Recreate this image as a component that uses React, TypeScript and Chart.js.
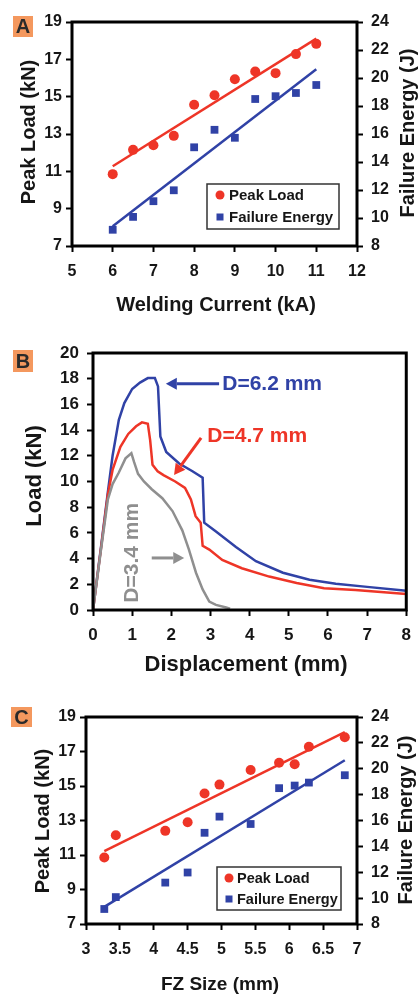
import React, { useEffect, useRef } from 'react';
import { Chart, registerables } from 'chart.js';

Chart.register(...registerables);

const FONT = '"Liberation Sans", Arial, Helvetica, sans-serif';
const RED = '#EE3527';
const BLUE = '#3042A6';
const GRAY = '#8F8F8F';
const INK = '#161616';

// Panel A / C data
const weldingCurrent = [6, 6.5, 7, 7.5, 8, 8.5, 9, 9.5, 10, 10.5, 11];
const fzSize = [3.27, 3.44, 4.17, 4.5, 4.75, 4.97, 5.43, 5.85, 6.08, 6.29, 6.82];
const peakLoad = [10.85, 12.15, 12.4, 12.9, 14.57, 15.08, 15.93, 16.35, 16.26, 17.28, 17.83];
const failureEnergy = [9.16, 10.08, 11.2, 11.98, 15.05, 16.3, 15.73, 18.5, 18.7, 18.93, 19.5];

// Panel B data
const dispD62 = [0, 0.2, 0.38, 0.5, 0.66, 0.8, 1.0, 1.2, 1.4, 1.58, 1.66, 1.72, 1.87, 2.2, 2.54, 2.8, 2.84, 3.14, 3.65, 4.16, 4.85, 5.53, 6.2, 7.0, 8.0];
const loadD62 = [0, 4.8, 9.2, 12, 14.8, 16.1, 17.2, 17.7, 18.05, 18.05, 17.4, 13.5, 12.3, 11.4, 10.8, 10.3, 6.8, 6.1, 4.9, 3.8, 2.9, 2.35, 2.05, 1.8, 1.5];
const dispD47 = [0, 0.2, 0.38, 0.5, 0.7, 0.9, 1.1, 1.25, 1.4, 1.46, 1.52, 1.65, 1.8, 2.1, 2.35, 2.5, 2.62, 2.75, 2.8, 2.97, 3.3, 3.8, 4.5, 5.2, 5.9, 6.7, 8.0];
const loadD47 = [0, 4.7, 9, 10.9, 12.7, 13.7, 14.3, 14.6, 14.5, 13.2, 11.3, 10.8, 10.5, 10.0, 9.5, 8.6, 7.3, 6.8, 5.0, 4.7, 3.9, 3.25, 2.6, 2.1, 1.7, 1.55, 1.25];
const dispD34 = [0, 0.2, 0.38, 0.5, 0.66, 0.83, 0.98, 1.05, 1.15, 1.3, 1.5, 1.77, 2.03, 2.28, 2.45, 2.63, 2.8, 2.97, 3.14, 3.4, 3.5];
const loadD34 = [0, 4.6, 8.6, 9.8, 10.7, 11.8, 12.2, 11.5, 10.6, 10.0, 9.4, 8.7, 7.7, 6.2, 4.7, 2.9, 1.6, 0.65, 0.4, 0.2, 0.1];

const pts = (xs: number[], ys: number[]) => xs.map((x, i) => ({ x, y: ys[i] }));

function linearFit(xs: number[], ys: number[]) {
  const n = xs.length;
  const mx = xs.reduce((a, b) => a + b, 0) / n;
  const my = ys.reduce((a, b) => a + b, 0) / n;
  let sxy = 0, sxx = 0;
  for (let i = 0; i < n; i++) { sxy += (xs[i] - mx) * (ys[i] - my); sxx += (xs[i] - mx) ** 2; }
  const b = sxy / sxx;
  const a = my - b * mx;
  const x0 = xs[0], x1 = xs[n - 1];
  return [{ x: x0, y: a + b * x0 }, { x: x1, y: a + b * x1 }];
}

type TextSpec = { text: string; x: number; y: number; size: number; rot?: number; color?: string };
type LegendSpec = { x: number; y: number; w: number; h: number; rows: number[]; mx: number; tx: number; size: number };
type LetterSpec = { x: number; y: number; w: number; h: number; letter: string };
type AnnoSpec = { text: string; tx: number; ty: number; color: string; rot?: number; size: number; ax1: number; ay1: number; ax2: number; ay2: number };

function drawText(ctx: CanvasRenderingContext2D, t: TextSpec) {
  ctx.save();
  ctx.translate(t.x, t.y);
  if (t.rot) ctx.rotate(t.rot);
  ctx.font = `bold ${t.size}px ${FONT}`;
  ctx.fillStyle = t.color || INK;
  ctx.textAlign = 'center';
  ctx.textBaseline = 'middle';
  ctx.fillText(t.text, 0, 0);
  ctx.restore();
}

function drawArrow(ctx: CanvasRenderingContext2D, x1: number, y1: number, x2: number, y2: number, color: string) {
  const ang = Math.atan2(y2 - y1, x2 - x1);
  const head = 11, hw = 6;
  const bx = x2 - head * Math.cos(ang), by = y2 - head * Math.sin(ang);
  ctx.save();
  ctx.strokeStyle = color;
  ctx.fillStyle = color;
  ctx.lineWidth = 3;
  ctx.beginPath();
  ctx.moveTo(x1, y1);
  ctx.lineTo(bx, by);
  ctx.stroke();
  ctx.beginPath();
  ctx.moveTo(x2, y2);
  ctx.lineTo(bx + hw * Math.sin(ang), by - hw * Math.cos(ang));
  ctx.lineTo(bx - hw * Math.sin(ang), by + hw * Math.cos(ang));
  ctx.closePath();
  ctx.fill();
  ctx.restore();
}

function makeDecor(spec: { texts: TextSpec[]; legend?: LegendSpec; letter: LetterSpec; annos?: AnnoSpec[] }) {
  return {
    id: 'decor',
    afterDatasetsDraw(chart: any) {
      const ctx: CanvasRenderingContext2D = chart.ctx;
      const ca = chart.chartArea;
      ctx.save();
      ctx.strokeStyle = '#000';
      ctx.lineWidth = 3;
      ctx.strokeRect(ca.left, ca.top, ca.right - ca.left, ca.bottom - ca.top);
      spec.texts.forEach((t) => drawText(ctx, t));
      const L = spec.letter;
      ctx.fillStyle = '#F4985E';
      ctx.fillRect(L.x, L.y, L.w, L.h);
      drawText(ctx, { text: L.letter, x: L.x + L.w / 2, y: L.y + L.h / 2 + 1, size: 20, color: '#2A2A2A' });
      if (spec.legend) {
        const g = spec.legend;
        ctx.fillStyle = '#fff';
        ctx.fillRect(g.x, g.y, g.w, g.h);
        ctx.strokeStyle = '#333';
        ctx.lineWidth = 1.5;
        ctx.strokeRect(g.x, g.y, g.w, g.h);
        ctx.fillStyle = RED;
        ctx.beginPath();
        ctx.arc(g.mx, g.rows[0], 4.5, 0, Math.PI * 2);
        ctx.fill();
        ctx.fillStyle = BLUE;
        ctx.fillRect(g.mx - 3.5, g.rows[1] - 3.5, 7, 7);
        ctx.font = `bold ${g.size}px ${FONT}`;
        ctx.fillStyle = INK;
        ctx.textAlign = 'left';
        ctx.textBaseline = 'middle';
        ctx.fillText('Peak Load', g.tx, g.rows[0] + 1);
        ctx.fillText('Failure Energy', g.tx, g.rows[1] + 1);
      }
      if (spec.annos) {
        const sx = chart.scales.x, sy = chart.scales.y;
        spec.annos.forEach((a) => {
          drawArrow(ctx, sx.getPixelForValue(a.ax1), sy.getPixelForValue(a.ay1), sx.getPixelForValue(a.ax2), sy.getPixelForValue(a.ay2), a.color);
          ctx.save();
          const px = sx.getPixelForValue(a.tx), py = sy.getPixelForValue(a.ty);
          ctx.translate(px, py);
          if (a.rot) ctx.rotate(a.rot);
          ctx.font = `bold ${a.size}px ${FONT}`;
          ctx.fillStyle = a.color;
          ctx.textAlign = a.rot ? 'center' : 'left';
          ctx.textBaseline = 'middle';
          ctx.fillText(a.text, 0, 0);
          ctx.restore();
        });
      }
      ctx.restore();
    },
  };
}

function axis(position: string, min: number, max: number, step: number, size: number, fontSize: number, pad: number) {
  const horizontal = position === 'bottom';
  return {
    type: 'linear',
    position,
    min,
    max,
    ticks: {
      stepSize: step,
      font: { family: FONT, weight: 'bold', size: fontSize },
      color: INK,
      padding: pad,
      callback: (v: number) => String(Math.round(v * 100) / 100),
    },
    grid: { display: true, drawOnChartArea: false, drawTicks: true, tickLength: 6, tickWidth: 2, color: '#000' },
    border: { display: false },
    afterFit: (s: any) => { if (horizontal) s.height = size; else s.width = size; },
  };
}

function scatterPanel(xs: number[], xMin: number, xMax: number, xStep: number, pad: any, decor: any) {
  return {
    type: 'scatter',
    data: {
      datasets: [
        { data: linearFit(xs, peakLoad), showLine: true, borderColor: RED, borderWidth: 2.5, pointRadius: 0, yAxisID: 'y' },
        { data: linearFit(xs, failureEnergy), showLine: true, borderColor: BLUE, borderWidth: 2.5, pointRadius: 0, yAxisID: 'y1' },
        { data: pts(xs, peakLoad), pointStyle: 'circle', pointRadius: 5, backgroundColor: RED, borderWidth: 0, yAxisID: 'y' },
        { data: pts(xs, failureEnergy), pointStyle: 'rect', pointRadius: 5.5, backgroundColor: BLUE, borderWidth: 0, yAxisID: 'y1' },
      ],
    },
    options: {
      animation: false,
      responsive: false,
      layout: { padding: pad, autoPadding: false },
      plugins: { legend: { display: false }, tooltip: { enabled: false } },
      scales: {
        x: axis('bottom', xMin, xMax, xStep, 45, 16, 10),
        y: axis('left', 7, 19, 2, 40, 16, 4),
        y1: axis('right', 8, 24, 2, 40, 16, 8),
      },
    },
    plugins: [decor],
  };
}

function ChartCanvas({ top, height, config }: { top: number; height: number; config: () => any }) {
  const ref = useRef<HTMLCanvasElement>(null);
  useEffect(() => {
    const c = new Chart(ref.current as HTMLCanvasElement, config());
    return () => c.destroy();
  }, []);
  return (
    <canvas ref={ref} width={420} height={height} style={{ position: 'absolute', left: 0, top, width: 420, height }} />
  );
}

const configA = () =>
  scatterPanel(weldingCurrent, 5, 12, 1, { left: 32, right: 23, top: 22, bottom: 39 }, makeDecor({
    texts: [
      { text: 'Peak Load (kN)', x: 29, y: 132, size: 20, rot: -Math.PI / 2 },
      { text: 'Failure Energy (J)', x: 408, y: 133, size: 20, rot: -Math.PI / 2 },
      { text: 'Welding Current (kA)', x: 216, y: 305, size: 20 },
    ],
    legend: { x: 207, y: 184, w: 132, h: 45, rows: [195, 217], mx: 220, tx: 229, size: 15 },
    letter: { x: 13, y: 16, w: 20, h: 21, letter: 'A' },
  }));

const configC = () =>
  scatterPanel(fzSize, 3, 7, 0.5, { left: 46, right: 23, top: 47, bottom: 27 }, makeDecor({
    texts: [
      { text: 'Peak Load (kN)', x: 43, y: 151, size: 20, rot: -Math.PI / 2 },
      { text: 'Failure Energy (J)', x: 406, y: 150, size: 20, rot: -Math.PI / 2 },
      { text: 'FZ Size (mm)', x: 220, y: 315, size: 19 },
    ],
    legend: { x: 217, y: 197, w: 124, h: 43, rows: [208, 229], mx: 229, tx: 237, size: 14.5 },
    letter: { x: 11, y: 37, w: 21, h: 20, letter: 'C' },
  }));

const configB = () => ({
  type: 'scatter',
  data: {
    datasets: [
      { data: pts(dispD34, loadD34), showLine: true, borderColor: GRAY, borderWidth: 2.5, pointRadius: 0 },
      { data: pts(dispD47, loadD47), showLine: true, borderColor: RED, borderWidth: 2.5, pointRadius: 0 },
      { data: pts(dispD62, loadD62), showLine: true, borderColor: BLUE, borderWidth: 2.5, pointRadius: 0 },
    ],
  },
  options: {
    animation: false,
    responsive: false,
    layout: { padding: { left: 53, right: 13, top: 28, bottom: 30 }, autoPadding: false },
    plugins: { legend: { display: false }, tooltip: { enabled: false } },
    scales: {
      x: axis('bottom', 0, 8, 1, 40, 17, 9),
      y: axis('left', 0, 20, 2, 40, 17, 8),
    },
  },
  plugins: [makeDecor({
    texts: [
      { text: 'Load (kN)', x: 35, y: 151, size: 22, rot: -Math.PI / 2 },
      { text: 'Displacement (mm)', x: 246, y: 340, size: 22 },
    ],
    letter: { x: 13, y: 25, w: 20, h: 22, letter: 'B' },
    annos: [
      { text: 'D=6.2 mm', tx: 3.3, ty: 17.6, color: BLUE, size: 21, ax1: 3.22, ay1: 17.6, ax2: 1.86, ay2: 17.6 },
      { text: 'D=4.7 mm', tx: 2.92, ty: 13.5, color: RED, size: 21, ax1: 2.76, ay1: 13.4, ax2: 2.07, ay2: 10.5 },
      { text: 'D=3.4 mm', tx: 1.0, ty: 4.45, color: GRAY, size: 21, rot: -Math.PI / 2, ax1: 1.5, ay1: 4.05, ax2: 2.33, ay2: 4.05 },
    ],
  })],
});

export default function App() {
  return (
    <div style={{ position: 'absolute', left: 0, top: 0, width: 420, height: 996, background: '#fff', overflow: 'hidden' }}>
      <ChartCanvas top={0} height={330} config={configA} />
      <ChartCanvas top={325} height={355} config={configB} />
      <ChartCanvas top={670} height={326} config={configC} />
    </div>
  );
}
